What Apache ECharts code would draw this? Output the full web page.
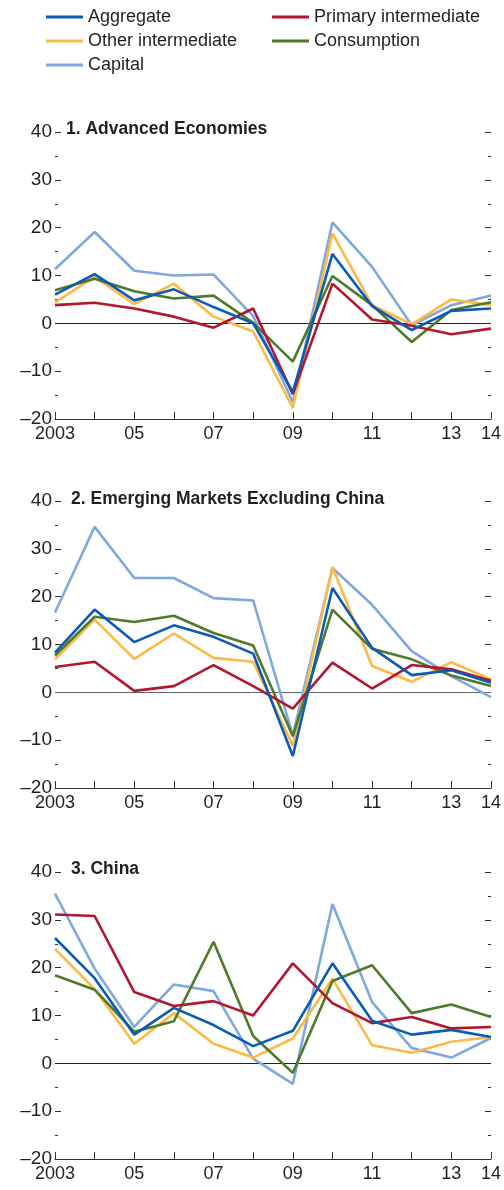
<!DOCTYPE html>
<html>
<head>
<meta charset="utf-8">
<script src="https://cdn.jsdelivr.net/npm/echarts@6/dist/echarts.min.js"></script>
<style>
  html, body { margin: 0; padding: 0; background: #fff; }
  #chart { width: 504px; height: 1190px; }
</style>
</head>
<body>
<div id="chart"></div>
<script>
  // years on the x axis and the labels shown under them
  var years = ['2003', '2004', '2005', '2006', '2007', '2008', '2009', '2010', '2011', '2012', '2013', '2014']
  var tickLabels = ['2003', '', '05', '', '07', '', '09', '', '11', '', '13', '14']
  var yTicks = [-20, -10, 0, 10, 20, 30, 40]

  var panelTitles = ['1. Advanced Economies', '2. Emerging Markets Excluding China', '3. China']

  // 1. Advanced economies
  var advAggregate = [6.0, 10.3, 4.8, 7.1, 3.4, 0.0, -14.4, 14.5, 3.6, -1.4, 2.6, 3.1]
  var advPrimary = [3.8, 4.3, 3.1, 1.4, -0.9, 3.1, -14.8, 8.3, 0.8, -0.5, -2.3, -1.1]
  var advOther = [4.4, 9.7, 4.0, 8.3, 1.4, -1.7, -17.7, 18.8, 3.8, -0.2, 5.0, 3.8]
  var advConsumption = [6.9, 9.3, 6.7, 5.2, 5.8, 0.1, -8.0, 9.9, 3.8, -3.9, 2.8, 4.4]
  var advCapital = [11.3, 19.1, 11.0, 10.0, 10.2, 1.5, -16.5, 21.1, 11.8, -0.4, 3.8, 5.8]

  // 2. Emerging markets excluding China
  var emAggregate = [8.3, 17.3, 10.5, 14.0, 11.6, 8.1, -13.3, 21.8, 9.3, 3.6, 4.6, 2.0]
  var emPrimary = [5.3, 6.4, 0.3, 1.3, 5.7, 1.3, -3.4, 6.2, 0.8, 5.7, 4.8, 2.4]
  var emOther = [6.9, 15.2, 7.0, 12.3, 7.2, 6.4, -11.2, 26.2, 5.5, 2.2, 6.3, 2.7]
  var emConsumption = [7.7, 15.8, 14.7, 16.0, 12.4, 9.8, -9.2, 17.3, 9.1, 6.9, 3.5, 1.3]
  var emCapital = [16.7, 34.6, 23.9, 23.9, 19.7, 19.2, -9.0, 26.0, 18.3, 8.6, 3.4, -1.0]

  // 3. China
  var cnAggregate = [26.2, 17.8, 6.0, 11.6, 8.0, 3.6, 6.8, 20.9, 8.9, 6.0, 7.0, 5.5]
  var cnPrimary = [31.1, 30.8, 14.9, 12.0, 13.0, 10.0, 20.9, 12.6, 8.4, 9.7, 7.3, 7.6]
  var cnOther = [23.9, 15.5, 4.1, 10.5, 4.1, 1.2, 5.2, 17.7, 3.8, 2.2, 4.5, 5.5]
  var cnConsumption = [18.4, 15.4, 6.6, 8.8, 25.4, 5.7, -2.0, 17.2, 20.5, 10.5, 12.3, 9.7]
  var cnCapital = [35.5, 19.8, 7.6, 16.5, 15.1, 1.0, -4.3, 33.3, 12.8, 3.2, 1.2, 5.3]

  var colors = {
    'Aggregate': '#0a5bb5',
    'Primary intermediate': '#b3162f',
    'Other intermediate': '#fdb945',
    'Consumption': '#4f7a2a',
    'Capital': '#7ea8de'
  }

  var panels = [
    { Aggregate: advAggregate, 'Primary intermediate': advPrimary, 'Other intermediate': advOther, Consumption: advConsumption, Capital: advCapital },
    { Aggregate: emAggregate, 'Primary intermediate': emPrimary, 'Other intermediate': emOther, Consumption: emConsumption, Capital: emCapital },
    { Aggregate: cnAggregate, 'Primary intermediate': cnPrimary, 'Other intermediate': cnOther, Consumption: cnConsumption, Capital: cnCapital }
  ]

  var font = "'Liberation Sans Narrow', 'Arial Narrow', 'Liberation Sans', sans-serif"
  var textColor = '#231f20'

  // grid geometry for the three panels
  var gridTops = [132, 501, 872]
  var gridHeight = 287
  var titleTops = [120, 490, 860]
  var titleLefts = [66, 71, 71]
  // zero line is a bit lighter in the middle panel
  var zeroColors = ['#222', '#666', '#222']

  // draw order: back to front
  var drawOrder = ['Capital', 'Other intermediate', 'Consumption', 'Primary intermediate', 'Aggregate']

  var grid = []
  var xAxis = []
  var yAxis = []
  var series = []
  var title = []

  panels.forEach(function (panel, i) {
    grid.push({ left: 55, right: 13, top: gridTops[i], height: gridHeight })
    title.push({
      text: panelTitles[i],
      left: titleLefts[i],
      top: titleTops[i],
      padding: 0,
      textStyle: { fontFamily: font, fontWeight: 'bold', fontSize: 17.5, color: textColor }
    })
    xAxis.push({
      type: 'category',
      gridIndex: i,
      data: years,
      boundaryGap: false,
      axisLine: { show: true, onZero: false, lineStyle: { color: '#333', width: 1.2 } },
      axisTick: { show: true, inside: true, length: 7, interval: 0, lineStyle: { color: '#333' } },
      axisLabel: {
        interval: 0,
        margin: 6,
        fontFamily: font,
        fontSize: 18,
        color: textColor,
        formatter: function (value, index) { return tickLabels[index] }
      },
      splitLine: { show: false }
    })
    var yBase = {
      type: 'value',
      gridIndex: i,
      min: yTicks[0],
      max: yTicks[yTicks.length - 1],
      interval: 10,
      axisLine: { show: false },
      axisTick: { show: true, inside: true, length: 6, lineStyle: { color: '#333' } },
      minorTick: { show: true, splitNumber: 2, length: 3, lineStyle: { color: '#333' } },
      splitLine: { show: false }
    }
    yAxis.push(Object.assign({}, yBase, {
      position: 'left',
      axisLabel: {
        margin: 3,
        fontFamily: font,
        fontSize: 19,
        color: textColor,
        formatter: function (v) { return v < 0 ? '\u2013' + Math.abs(v) : String(v) }
      }
    }))
    yAxis.push(Object.assign({}, yBase, {
      position: 'right',
      axisLabel: { show: false }
    }))

    drawOrder.forEach(function (name, k) {
      var s = {
        name: name,
        type: 'line',
        xAxisIndex: i,
        yAxisIndex: i * 2,
        data: panel[name],
        symbol: 'none',
        lineStyle: { color: colors[name], width: 2.6 },
        itemStyle: { color: colors[name] },
        z: 3 + k
      }
      if (k === 0) {
        s.markLine = {
          silent: true,
          symbol: 'none',
          label: { show: false },
          lineStyle: { color: zeroColors[i], width: 1, type: 'solid' },
          data: [{ yAxis: 0 }],
          z: 2
        }
      }
      series.push(s)
    })
  })

  var legendText = { fontFamily: font, fontSize: 18, color: textColor }

  var chart = echarts.init(document.getElementById('chart'))
  chart.setOption({
    animation: false,
    title: title,
    legend: [
      {
        data: ['Aggregate', 'Other intermediate', 'Capital'],
        orient: 'vertical',
        left: 46,
        top: 8,
        padding: 0,
        itemGap: 6,
        itemWidth: 37,
        itemHeight: 3,
        icon: 'rect',
        textStyle: legendText,
        selectedMode: false
      },
      {
        data: ['Primary intermediate', 'Consumption'],
        orient: 'vertical',
        left: 272,
        top: 8,
        padding: 0,
        itemGap: 6,
        itemWidth: 37,
        itemHeight: 3,
        icon: 'rect',
        textStyle: legendText,
        selectedMode: false
      }
    ],
    grid: grid,
    xAxis: xAxis,
    yAxis: yAxis,
    series: series
  })
</script>
</body>
</html>
